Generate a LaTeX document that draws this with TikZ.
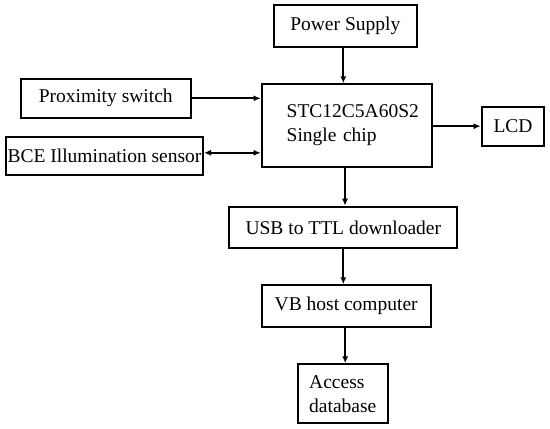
\documentclass[tikz,border=0pt]{standalone}
\usepackage{fontspec}
\setmainfont{Liberation Serif}
\usetikzlibrary{arrows.meta}
\begin{document}
\begin{tikzpicture}[x=1pt,y=-1pt,
  box/.style={draw, line width=2pt, inner sep=0pt, font=\fontsize{19.5}{24}\selectfont},
  arr/.style={line width=1.8pt, -{Latex[length=7pt,width=6pt]}},
  darr/.style={line width=1.8pt, {Latex[length=7pt,width=6pt]}-{Latex[length=7pt,width=6pt]}}]
\useasboundingbox (0,0) rectangle (550,429);
\node[box, minimum width=142.7pt, minimum height=41.7pt] (power) at (345.3,25.8) {Power Supply};
\node[box, minimum height=82.4pt, text width=120pt, inner xsep=25pt, align=left] (chip) at (346.7,125.5) {STC12C5A60S2\\Single chip};
\node[box, minimum width=170.3pt, minimum height=38.7pt] (prox) at (105.8,98.3) {Proximity switch};
\node[box, minimum width=197pt, minimum height=38.3pt] (bce) at (104.5,155.8) {BCE Illumination sensor};
\node[box, minimum width=62.6pt, minimum height=39pt] (lcd) at (513,126.2) {LCD};
\node[box, minimum width=228pt, minimum height=41.6pt] (usb) at (343.3,227.5) {USB to TTL downloader};
\node[box, minimum width=169pt, minimum height=42pt] (vb) at (346.2,306.3) {VB host computer};
\node[box, minimum height=59pt, text width=67pt, inner xsep=11.5pt, align=left] (acc) at (342.7,393.8) {Access\\database};
\draw[arr] ([xshift=-2pt]power.south) -- ([xshift=-2pt]power.south |- chip.north);
\draw[arr] ([xshift=-1.7pt]chip.south) -- ([xshift=-1.7pt]chip.south |- usb.north);
\draw[arr] (usb.south) -- (usb.south |- vb.north);
\draw[arr] ([xshift=-1pt]vb.south) -- ([xshift=-1pt]vb.south |- acc.north);
\draw[arr] (prox.east) -- (prox.east -| chip.west);
\draw[darr] ([yshift=3pt]bce.east) -- ([yshift=3pt]bce.east -| chip.west);
\draw[arr] (chip.east |- lcd.west) -- (lcd.west);
\end{tikzpicture}
\end{document}
